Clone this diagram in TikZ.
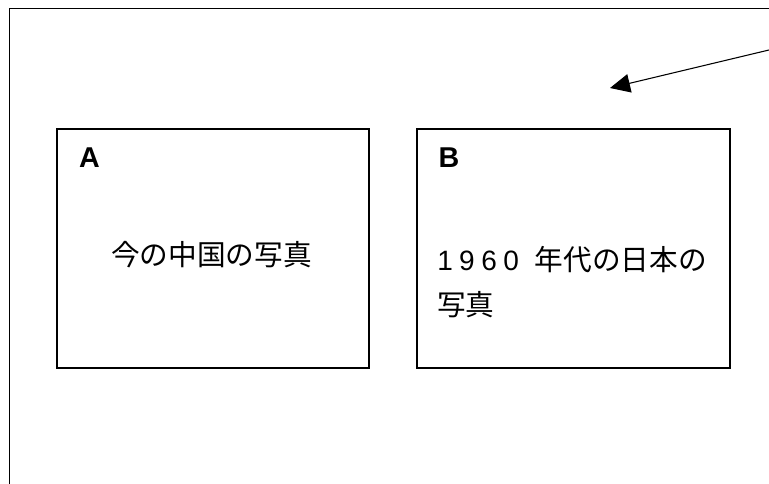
\documentclass[tikz,border=0pt]{standalone}
\usepackage{fontspec}
\setmainfont{Liberation Sans}
\newfontfamily\jpfont{Noto Sans CJK JP}
\newfontfamily\digitfont{Liberation Sans}[LetterSpace=23]
\usetikzlibrary{arrows.meta}
\tikzset{
  frame/.style={line width=1.4pt, draw=black},
  photobox/.style={draw=black, line width=0.8pt, minimum width=312*0.75pt, minimum height=239*0.75pt, inner sep=0pt},
  letter/.style={font=\fontsize{21.5}{25}\selectfont\bfseries, inner sep=0pt},
  jptext/.style={font=\fontsize{21.5}{25}\jpfont, inner sep=0pt, anchor=west},
  pointer/.style={line width=0.8pt, -{Triangle[length=15pt,width=14pt]}}
}
\begin{document}
\begin{tikzpicture}[x=0.75pt,y=-0.75pt]
  \useasboundingbox (0,0) rectangle (769,484);
  \fill[white] (0,0) rectangle (769,484);
  % outer frame (continues beyond the picture)
  \draw[frame] (769,8.5) -- (9.5,8.5) -- (9.5,484);
  % boxes
  \node[photobox] (boxA) at (213,248.5) {};
  \node[photobox, minimum width=313*0.75pt] (boxB) at (573.5,248.5) {};
  \node[letter] (labA) at (89.5,157.5) {A};
  \node[letter] (labB) at (449,157.5) {B};
  \node[jptext] (txtA) at (111,255) {今の中国の写真};
  \node[jptext] (txtB1) at (437,260) {{\fontsize{21}{24}\digitfont 1960}\hspace{12pt}年代の日本の};
  \node[jptext] (txtB2) at (437,305) {写真};
  % arrow
  \coordinate (arrStart) at (769,50);
  \coordinate (arrEnd) at (610,88);
  \draw[pointer] (arrStart) -- (arrEnd);
\end{tikzpicture}
\end{document}
